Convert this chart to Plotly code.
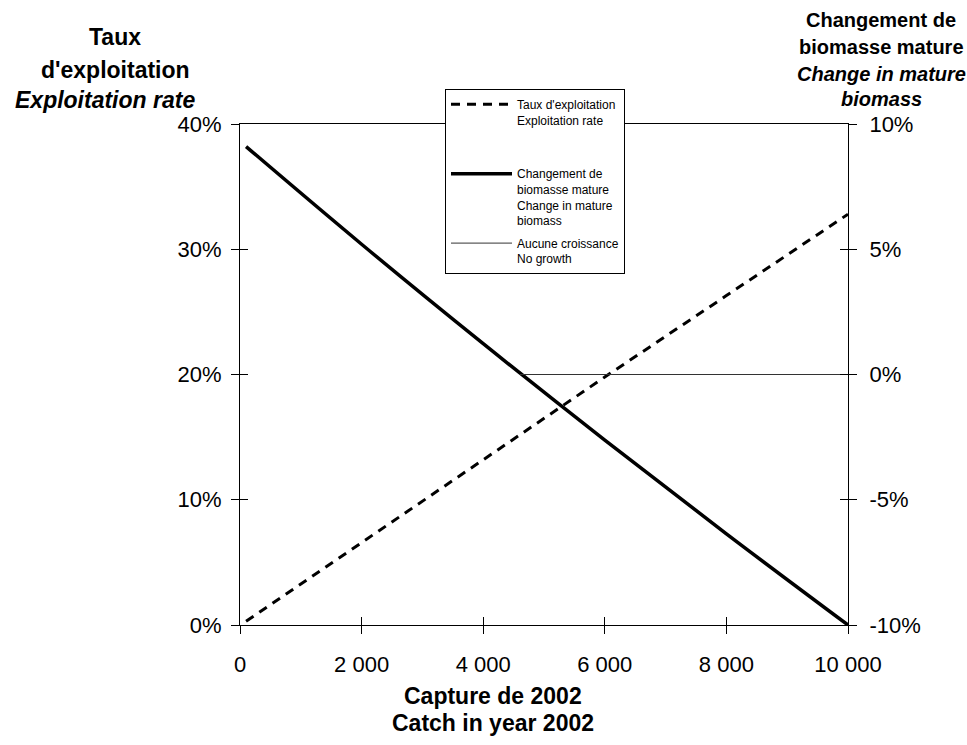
import plotly.graph_objects as go

# Catch in 2002 (tonnes) and the resulting exploitation rate
catch_rate = [100, 2000, 4000, 6000, 8000, 10000]
exploitation_rate = [0.003, 0.066, 0.132, 0.198, 0.263, 0.328]

# Catch in 2002 and the resulting change in mature biomass
catch_biomass = [100, 2000, 4000, 6000, 8000, 10000]
biomass_change = [0.091, 0.052, 0.0123, -0.0262, -0.0636, -0.100]

# Reference line: no growth in mature biomass
catch_nogrowth = [4600, 10000]
nogrowth = [0.0, 0.0]

# Axis ticks
x_tickvals = [0, 2000, 4000, 6000, 8000, 10000]
x_ticktext = ["0", "2 000", "4 000", "6 000", "8 000", "10 000"]
y_tickvals = [0.0, 0.1, 0.2, 0.3, 0.4]
y_ticktext = ["0%", "10%", "20%", "30%", "40%"]
y2_tickvals = [-0.10, -0.05, 0.0, 0.05, 0.10]
y2_ticktext = ["-10%", "-5%", "0%", "5%", "10%"]

FONT = "Liberation Sans, Arial, sans-serif"

fig = go.Figure()
fig.add_trace(go.Scatter(
    x=catch_rate, y=exploitation_rate, mode="lines",
    name="Taux d'exploitation<br>Exploitation rate<br> <br> ",
    line=dict(color="black", width=3, dash="9px,7px"),
    yaxis="y", legendgroup="a",
))
fig.add_trace(go.Scatter(
    x=catch_biomass, y=biomass_change, mode="lines",
    name="Changement de<br>biomasse mature<br>Change in mature<br>biomass",
    line=dict(color="black", width=3.5, shape="spline", smoothing=1),
    yaxis="y2", legendgroup="b",
))
fig.add_trace(go.Scatter(
    x=catch_nogrowth, y=nogrowth, mode="lines",
    name="Aucune croissance<br>No growth",
    line=dict(color="#333333", width=1),
    yaxis="y2", legendgroup="c",
))

# Empty traces so the overlay axes (used for the inner half of the
# crossing tick marks) get drawn
for xa, ya in [("x2", "y"), ("x", "y3"), ("x", "y4")]:
    fig.add_trace(go.Scatter(
        x=[], y=[], xaxis=xa, yaxis=ya, showlegend=False,
        hoverinfo="skip", mode="lines",
    ))

W, H = 967, 745
L, R, T, B = 240, 119, 124, 120
pw, ph = W - L - R, H - T - B


def px(xp):
    return (xp - L) / pw


def py(yp):
    return (H - B - yp) / ph


tick_font = dict(family=FONT, size=22, color="black")

fig.update_layout(
    width=W, height=H,
    margin=dict(l=L, r=R, t=T, b=B, pad=0),
    paper_bgcolor="white", plot_bgcolor="white",
    font=dict(family=FONT, color="black"),
    showlegend=True,
    legend=dict(
        x=px(445), y=py(89), xanchor="left", yanchor="top",
        bgcolor="white", bordercolor="black", borderwidth=1,
        font=dict(family=FONT, size=12, color="black"),
        valign="top", itemwidth=61, tracegroupgap=4,
    ),
    xaxis=dict(
        range=[0, 10000], tickvals=x_tickvals, ticktext=x_ticktext,
        showline=True, linecolor="black", linewidth=1, mirror=True,
        ticks="outside", ticklen=8, tickcolor="black",
        showgrid=False, zeroline=False, tickfont=tick_font,
        ticklabelstandoff=12,
    ),
    xaxis2=dict(
        overlaying="x", matches="x", anchor="y", side="bottom",
        tickvals=x_tickvals, showticklabels=False,
        ticks="inside", ticklen=8, tickcolor="black",
        showline=False, showgrid=False, zeroline=False,
    ),
    yaxis=dict(
        range=[0, 0.4], tickvals=y_tickvals, ticktext=y_ticktext,
        showline=True, linecolor="black", linewidth=1,
        ticks="outside", ticklen=8, tickcolor="black",
        showgrid=False, zeroline=False, tickfont=tick_font,
        ticklabelstandoff=5,
    ),
    yaxis2=dict(
        range=[-0.1, 0.1], tickvals=y2_tickvals, ticktext=y2_ticktext,
        overlaying="y", side="right", anchor="x",
        showline=True, linecolor="black", linewidth=1,
        ticks="outside", ticklen=8, tickcolor="black",
        showgrid=False, zeroline=False, tickfont=tick_font,
        ticklabelstandoff=8,
    ),
    yaxis3=dict(
        overlaying="y", matches="y", side="left", anchor="x",
        tickvals=y_tickvals, showticklabels=False,
        ticks="inside", ticklen=8, tickcolor="black",
        showline=False, showgrid=False, zeroline=False,
    ),
    yaxis4=dict(
        overlaying="y", matches="y2", side="right", anchor="x",
        tickvals=y2_tickvals, showticklabels=False,
        ticks="inside", ticklen=8, tickcolor="black",
        showline=False, showgrid=False, zeroline=False,
    ),
)

title_font = dict(family=FONT, size=23, color="black")
right_font = dict(family=FONT, size=20, color="black")

titles = [
    ("<b>Taux</b>", 115, 37, title_font),
    ("<b>d'exploitation</b>", 115, 70, title_font),
    ("<b><i>Exploitation rate</i></b>", 105, 100, title_font),
    ("<b>Changement de</b>", 881, 20, right_font),
    ("<b>biomasse mature</b>", 881, 47, right_font),
    ("<b><i>Change in mature</i></b>", 881, 74, right_font),
    ("<b><i>biomass</i></b>", 881, 99, right_font),
    ("<b>Capture de 2002</b>", 493, 696, title_font),
    ("<b>Catch in year 2002</b>", 493, 723, title_font),
]
for text, xp, yp, f in titles:
    fig.add_annotation(
        text=text, xref="paper", yref="paper", x=px(xp), y=py(yp),
        xanchor="center", yanchor="middle", showarrow=False, font=f,
    )

fig.write_html("out.html")
